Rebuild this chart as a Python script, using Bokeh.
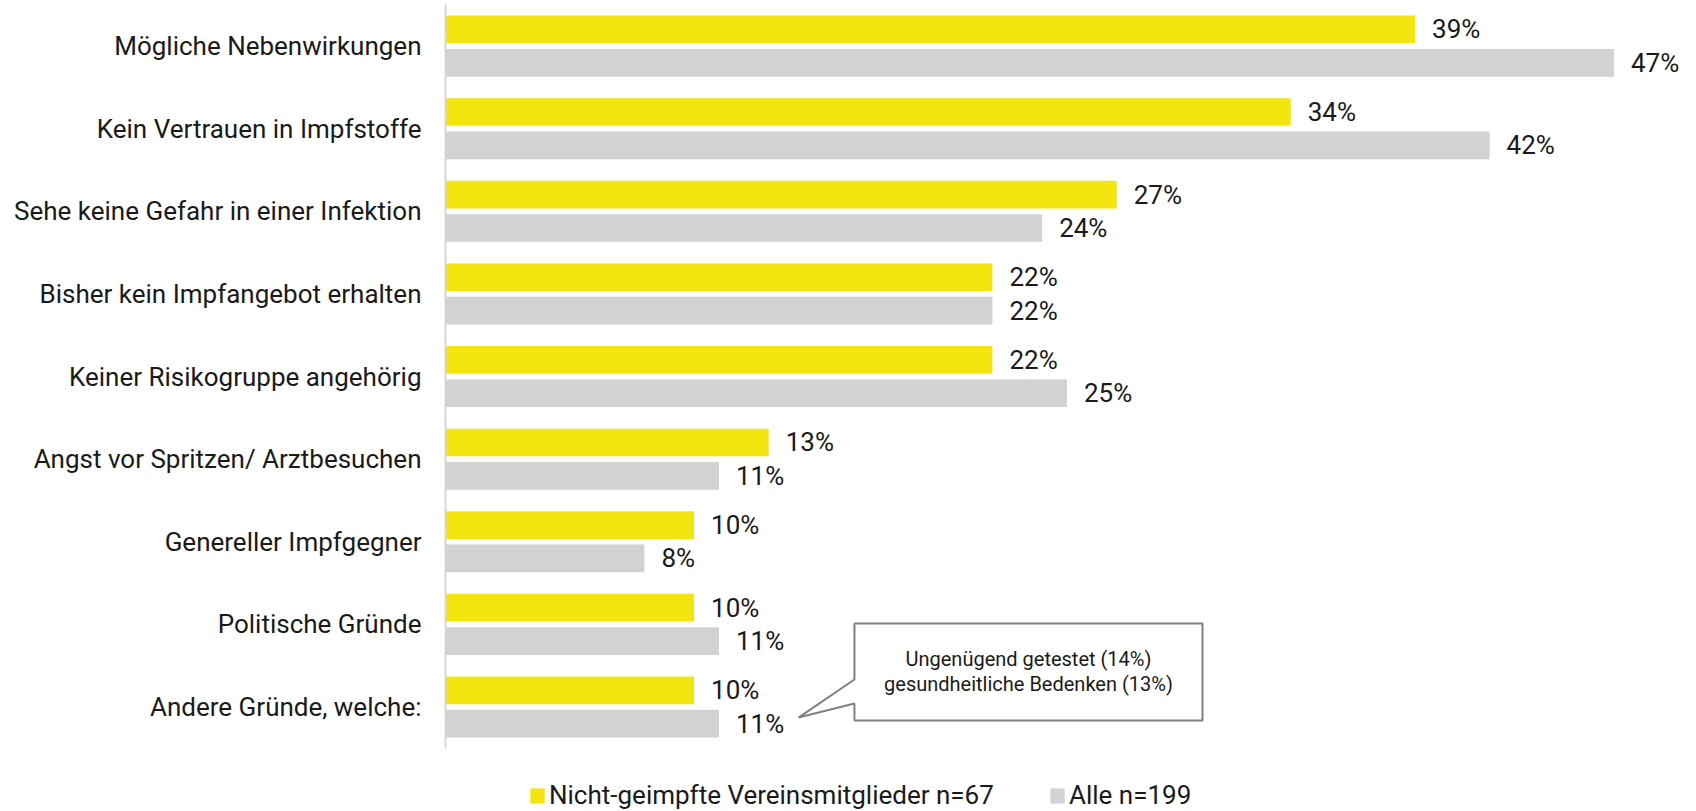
from bokeh.plotting import figure
from bokeh.models import ColumnDataSource, Range1d, FixedTicker, Legend, LegendItem
from bokeh.core.properties import value
from bokeh.embed import file_html
from bokeh.resources import INLINE

# ---- data ----
categories = [
    "Mögliche Nebenwirkungen",
    "Kein Vertrauen in Impfstoffe",
    "Sehe keine Gefahr in einer Infektion",
    "Bisher kein Impfangebot erhalten",
    "Keiner Risikogruppe angehörig",
    "Angst vor Spritzen/ Arztbesuchen",
    "Genereller Impfgegner",
    "Politische Gründe",
    "Andere Gründe, welche:",
]
nicht_geimpft = [39, 34, 27, 22, 22, 13, 10, 10, 10]
alle = [47, 42, 24, 22, 25, 11, 8, 11, 11]
series_names = ["Nicht-geimpfte Vereinsmitglieder n=67", "Alle n=199"]
callout_lines = ["Ungenügend getestet (14%)", "gesundheitliche Bedenken (13%)"]

YELLOW = "#F3E50F"
GRAY = "#D1D2D4"
TXT = "#1a1a1a"
FONT = "Roboto"

OFF = 0.202
BAR_H = 0.335

idx = list(range(len(categories)))
src_y = ColumnDataSource(dict(
    y=[i - OFF for i in idx], v=nicht_geimpft, lab=[f"{v}%" for v in nicht_geimpft]))
src_g = ColumnDataSource(dict(
    y=[i + OFF for i in idx], v=alle, lab=[f"{v}%" for v in alle]))

p = figure(width=1696, height=811, output_backend="svg", toolbar_location=None,
           x_range=Range1d(0, 50), y_range=Range1d(9.265, -0.552),
           x_axis_location=None, min_border_top=0, min_border_right=8,
           min_border_left=445, min_border_bottom=0)
p.outline_line_color = None
p.xgrid.visible = False
p.ygrid.visible = False
p.background_fill_color = "white"
p.border_fill_color = "white"

r_y = p.hbar(y="y", left=0, right="v", height=BAR_H, source=src_y,
             fill_color=YELLOW, line_color=None)
r_g = p.hbar(y="y", left=0, right="v", height=BAR_H, source=src_g,
             fill_color=GRAY, line_color=None)

for s in (src_y, src_g):
    p.text(x="v", y="y", text="lab", source=s, x_offset=17,
           text_align="left", text_baseline="middle",
           text_font=value(FONT), text_font_size="26px", text_color=TXT)

ax = p.yaxis[0]
ax.ticker = FixedTicker(ticks=idx)
ax.bounds = (-0.504, len(categories) - 1 + 0.502)
ax.major_label_overrides = {i: c for i, c in zip(idx, categories)}
ax.major_tick_line_color = None
ax.minor_tick_line_color = None
ax.axis_line_color = "#d6d6d6"
ax.axis_line_width = 2
ax.major_label_standoff = 18
ax.major_label_text_font = FONT
ax.major_label_text_font_size = "26px"
ax.major_label_text_color = TXT

# ---- callout (anchored to last category's "Alle" bar) ----
last = len(categories) - 1
tip_x = alle[-1] + 3.2
tip_y = last + OFF - 0.074
bx0, bx1 = alle[-1] + 5.45, alle[-1] + 19.45
by0, by1 = last - 1.01, last + 0.164
pb0, pb1 = last - 0.333, last - 0.042
p.patch(x=[bx0, bx1, bx1, bx0, bx0, tip_x, bx0, bx0],
        y=[by0, by0, by1, by1, pb1, tip_y, pb0, by0],
        fill_color="white", line_color="#808080", line_width=2)
cx = (bx0 + bx1) / 2
p.text(x=[cx, cx], y=[last - 0.587, last - 0.284], text=callout_lines,
       text_align="center", text_baseline="middle",
       text_font=value(FONT), text_font_size="20px", text_color=TXT)

# ---- legends ----
for r, name, xloc in ((r_y, series_names[0], 83), (r_g, series_names[1], 603)):
    lg = Legend(items=[LegendItem(label=name, renderers=[r])], location=(xloc, 1),
                orientation="horizontal", glyph_width=18, glyph_height=19,
                label_standoff=3, padding=0, margin=0, spacing=0,
                border_line_color=None, background_fill_alpha=0,
                label_text_font=FONT, label_text_font_size="26px",
                label_text_color=TXT, label_text_baseline="middle")
    p.add_layout(lg, "center")

open("out.html", "w").write(file_html(p, INLINE))
